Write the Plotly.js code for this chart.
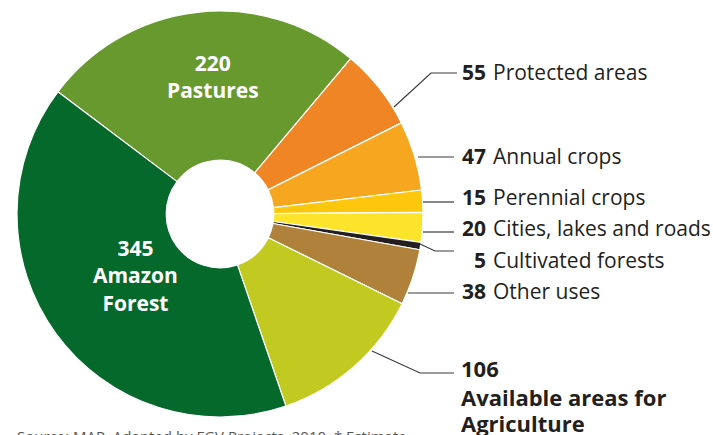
<!DOCTYPE html>
<html>
<head>
<meta charset="utf-8">
<script src="https://cdn.plot.ly/plotly-3.0.1.min.js"></script>
<style>html,body{margin:0;padding:0;background:#fff;}#chart{width:713px;height:435px;}</style>
</head>
<body>
<div id="chart"></div>
<script>
// Data (millions of hectares)
const categories = ['Pastures','Protected areas','Annual crops','Perennial crops','Cities, lakes and roads','Cultivated forests','Other uses','Available areas for Agriculture','Amazon Forest'];
const values = [220, 55, 47, 15, 20, 5, 38, 106, 345];
const colors = ['#67992e','#f08526','#f6a61f','#fcc70d','#fde42c','#231f20','#b0813a','#c2ca22','#05692b'];
const sourceNote = 'Source: MAP. Adapted by FGV Projects, 2010. * Estimate';

const W = 713, H = 435;
const px = x => x / W;
const py = y => 1 - y / H;

const textColor = '#231f20';
const fontFam = '"Open Sans", "Noto Sans", sans-serif';

// layout positions for labels (pixels)
const insideLabels = {
  'Pastures': {x: 213, y: 76, lines: ['Pastures']},
  'Amazon Forest': {x: 135, y: 275, lines: ['Amazon', 'Forest']}
};
const outsideLabels = {
  'Protected areas': {y: 72, path: [[394,107],[431,73],[457,73]]},
  'Annual crops': {y: 156, path: [[418,157],[454,157]]},
  'Perennial crops': {y: 197, path: [[423,202],[454,202]]},
  'Cities, lakes and roads': {y: 228, path: [[423,232],[454,232]]},
  'Cultivated forests': {y: 260, path: [[420,244],[435,251],[454,251]]},
  'Other uses': {y: 291, path: [[408,293],[454,293]]},
  'Available areas for Agriculture': {y: 368, path: [[372,351],[420,373],[454,373]], block: ['Available areas for', 'Agriculture']}
};

const annotations = [];
const shapes = [];
categories.forEach((c, i) => {
  const v = values[i];
  if (insideLabels[c]) {
    const L = insideLabels[c];
    annotations.push({
      x: px(L.x), y: py(L.y), xref: 'paper', yref: 'paper', xanchor: 'center', yanchor: 'middle',
      showarrow: false, align: 'center',
      text: '<b>' + v + '<br>' + L.lines.join('<br>') + '</b>',
      font: {family: fontFam, size: 21, color: '#ffffff'}
    });
  } else if (outsideLabels[c]) {
    const L = outsideLabels[c];
    if (L.block) {
      annotations.push({
        x: px(459), y: py(L.y), xref: 'paper', yref: 'paper', xanchor: 'left', yanchor: 'middle',
        showarrow: false, text: '<b>' + v + '</b>',
        font: {family: fontFam, size: 22, color: textColor}
      });
      L.block.forEach((line, k) => {
        annotations.push({
          x: px(459), y: py(L.y + 29 + k * 26), xref: 'paper', yref: 'paper', xanchor: 'left', yanchor: 'middle',
          showarrow: false, align: 'left', text: '<b>' + line + '</b>',
          font: {family: fontFam, size: 22, color: textColor}
        });
      });
    } else {
      annotations.push({
        x: px(488), y: py(L.y), xref: 'paper', yref: 'paper', xanchor: 'right', yanchor: 'middle',
        showarrow: false, text: '<b>' + v + '</b>',
        font: {family: fontFam, size: 21, color: textColor}
      });
      annotations.push({
        x: px(491), y: py(L.y), xref: 'paper', yref: 'paper', xanchor: 'left', yanchor: 'middle',
        showarrow: false, text: c,
        font: {family: fontFam, size: 21, color: textColor}
      });
    }
    const d = L.path.map((p, k) => (k ? 'L' : 'M') + px(p[0]) + ',' + py(p[1])).join(' ');
    shapes.push({type: 'path', xref: 'paper', yref: 'paper', path: d, line: {color: '#3a3a3a', width: 1.2}});
  }
});

annotations.push({
  x: px(15), y: py(436), xref: 'paper', yref: 'paper', xanchor: 'left', yanchor: 'middle',
  showarrow: false, text: sourceNote,
  font: {family: fontFam, size: 15, color: '#555555'}
});

const trace = {
  type: 'pie',
  labels: categories,
  values: values,
  sort: false,
  direction: 'clockwise',
  rotation: -53,
  hole: 0.265,
  marker: {colors: colors, line: {color: '#ffffff', width: 1.2}},
  textinfo: 'none',
  hoverinfo: 'label+value',
  showlegend: false,
  domain: {x: [px(17), px(423)], y: [py(417), py(11)]}
};

Plotly.newPlot('chart', [trace], {
  width: W, height: H,
  margin: {l: 0, r: 0, t: 0, b: 0},
  paper_bgcolor: '#ffffff',
  showlegend: false,
  annotations: annotations,
  shapes: shapes
}, {displayModeBar: false, staticPlot: true});
</script>
</body>
</html>
